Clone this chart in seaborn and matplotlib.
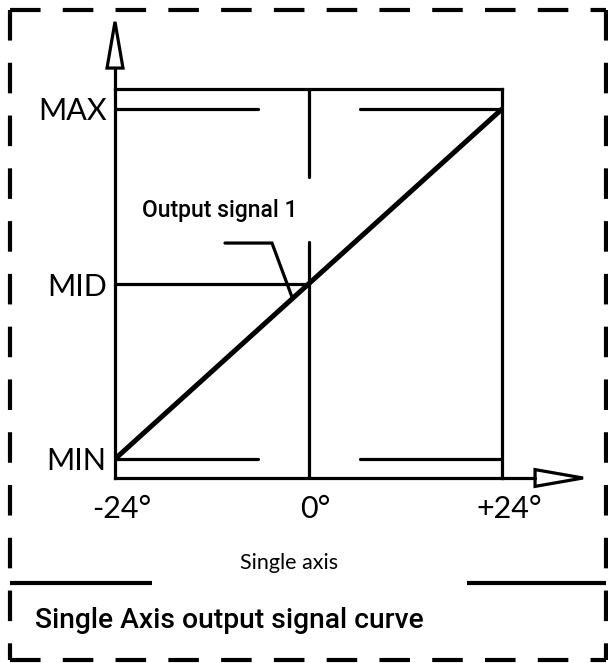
import matplotlib
matplotlib.use("Agg")
import matplotlib.pyplot as plt
import matplotlib.transforms as mtransforms
import seaborn as sns
import pandas as pd
from matplotlib.lines import Line2D
from matplotlib.patches import Polygon

# data
angle_deg = [-24, 24]
signal_pct = [0, 100]
x_ticks = [-24, 0, 24]
x_labels = ["-24°", "0°", "+24°"]
y_ticks = [0, 50, 100]
y_labels = ["MIN", "MID", "MAX"]
curve_label = "Output signal 1"
axis_caption = "Single axis"
title = "Single Axis output signal curve"

sns.set_style("white")
plt.rcParams["lines.scale_dashes"] = False
plt.rcParams["font.family"] = ["Lato", "DejaVu Sans"]
plt.rcParams["text.color"] = "black"
plt.rcParams["xtick.color"] = "black"
plt.rcParams["ytick.color"] = "black"

W, H = 608, 663
fig = plt.figure(figsize=(W / 100, H / 100), dpi=100)

def fpx(x, y):
    return x / W, 1 - y / H

# main plotting box (pixels: x 115..502, y 89..478)
l, b = fpx(115, 478)
r, t = fpx(502, 89)
ax = fig.add_axes([l, b, r - l, t - b])
ax.set_xlim(-24, 24)
ax.set_ylim(-19 / 3.5, 100 + 20 / 3.5)

lw = 2.3
for s in ax.spines.values():
    s.set_linewidth(lw)
    s.set_color("black")

df = pd.DataFrame({"angle": angle_deg, "signal": signal_pct})
sns.lineplot(data=df, x="angle", y="signal", ax=ax, color="black", lw=3.6,
             solid_capstyle="round", zorder=5)

# reference lines
ax.plot([-24, -6.3], [100, 100], color="black", lw=lw)
ax.plot([6.4, 24], [100, 100], color="black", lw=lw)
ax.plot([-24, -6.3], [0, 0], color="black", lw=lw)
ax.plot([6.4, 24], [0, 0], color="black", lw=lw)
ax.plot([-24, 0], [50, 50], color="black", lw=lw)
ax.plot([0, 0], [ax.get_ylim()[1], (459 - 177) / 3.5], color="black", lw=lw)
ax.plot([0, 0], [(459 - 242) / 3.5, ax.get_ylim()[0]], color="black", lw=lw)

# leader line and label
ax.plot([-10.36, -4.53, -2.05], [61.7, 61.7, 46.3], color="black", lw=lw,
        solid_joinstyle="miter")
ax.text(-11.0, 71.0, curve_label, ha="center", va="center", fontsize=16.5,
        family=["Roboto", "DejaVu Sans"], fontweight="medium", color="black")

# axis arrows
ytop = ax.get_ylim()[1]
ax.plot([-24, -24], [ytop, 111.7], color="black", lw=lw, clip_on=False)
ax.add_patch(Polygon([[-24.99, 111.7], [-23.01, 111.7], [-24, 124.9]], closed=True,
                     facecolor="white", edgecolor="black", lw=lw, clip_on=False,
                     joinstyle="miter"))
ybot = ax.get_ylim()[0]
ax.plot([24, 28.1], [ybot, ybot], color="black", lw=lw, clip_on=False)
ax.add_patch(Polygon([[28.1, ybot - 2.4], [28.1, ybot + 2.4], [34.05, ybot]], closed=True,
                     facecolor="white", edgecolor="black", lw=lw, clip_on=False,
                     joinstyle="miter"))

ax.set_xticks(x_ticks)
ax.set_xticklabels(x_labels, fontsize=22)
ax.set_yticks(y_ticks)
ax.set_yticklabels(y_labels, fontsize=22)
ax.tick_params(axis="both", length=0, colors="black")
ax.tick_params(axis="x", pad=12)
ax.tick_params(axis="y", pad=6)
ax.set_xlabel("")
ax.set_ylabel("")
shift = mtransforms.ScaledTranslation(7 / 100, 0, fig.dpi_scale_trans)
for lab in ax.get_xticklabels():
    lab.set_transform(lab.get_transform() + shift)

# caption and title
fig.text(*fpx(289, 563), axis_caption, ha="center", va="center", fontsize=15.5)
fig.text(*fpx(35, 621), title, ha="left", va="center", fontsize=20.3,
         family=["Roboto", "DejaVu Sans"], fontweight="medium")

# dashed frame
def frame_line(p0, p1, dashed=True):
    x0, y0 = fpx(*p0)
    x1, y1 = fpx(*p1)
    ln = Line2D([x0, x1], [y0, y1], transform=fig.transFigure, color="black",
                lw=3, solid_capstyle="butt", dash_capstyle="butt")
    if dashed:
        ln.set_linestyle((0, (22, 16)))
    fig.add_artist(ln)

frame_line((10, 10), (606, 10))
frame_line((10, 10), (10, 660))
frame_line((606, 10), (606, 660))
frame_line((10, 660), (606, 660))
frame_line((10, 583), (152, 583), dashed=False)
frame_line((467, 583), (606, 583), dashed=False)

fig.savefig("out.png", dpi=100)
